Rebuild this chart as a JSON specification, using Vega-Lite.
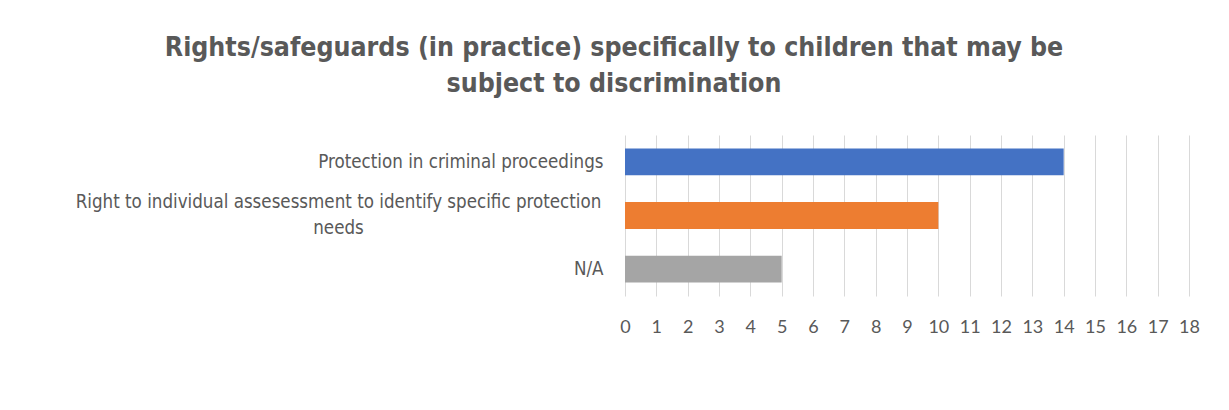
{
  "$schema": "https://vega.github.io/schema/vega-lite/v6.json",
  "width": 564,
  "height": 161,
  "autosize": "none",
  "padding": {"left": 625, "top": 135, "right": 40, "bottom": 114},
  "background": "white",
  "title": {
    "text": ["Rights/safeguards (in practice) specifically to children that may be", "subject to discrimination"],
    "anchor": "middle",
    "frame": "group",
    "dx": -293,
    "offset": 38,
    "font": "DejaVu Sans Condensed",
    "fontSize": 26.5,
    "fontWeight": "bold",
    "color": "#595959",
    "lineHeight": 36
  },
  "data": {
    "values": [
      {"category": "Protection in criminal proceedings", "count": 14},
      {"category": "Right to individual assesessment to identify specific protection needs", "count": 10},
      {"category": "N/A", "count": 5}
    ]
  },
  "mark": {"type": "bar"},
  "encoding": {
    "y": {
      "field": "category",
      "type": "nominal",
      "sort": null,
      "scale": {"paddingInner": 0.5, "paddingOuter": 0.25},
      "axis": {
        "title": null,
        "domain": false,
        "ticks": false,
        "grid": false,
        "labelFont": "DejaVu Sans Condensed",
        "labelFontSize": 18.6,
        "labelColor": "#595959",
        "labelLimit": 700,
        "labelLineHeight": 26,
        "labelExpr": "datum.label == 'Right to individual assesessment to identify specific protection needs' ? ['Right to individual assesessment to identify specific protection', 'needs'] : datum.label",
        "labelAlign": {"condition": {"test": "datum.label == 'Right to individual assesessment to identify specific protection needs'", "value": "center"}, "value": "right"},
        "labelPadding": {"condition": {"test": "datum.label == 'Right to individual assesessment to identify specific protection needs'", "value": 287}, "value": 22},
        "labelOffset": {"condition": {"test": "datum.label == 'Right to individual assesessment to identify specific protection needs'", "value": -14}, "value": 0}
      }
    },
    "x": {
      "field": "count",
      "type": "quantitative",
      "scale": {"domain": [0, 18], "nice": false},
      "axis": {
        "title": null,
        "values": [0,1,2,3,4,5,6,7,8,9,10,11,12,13,14,15,16,17,18],
        "domain": false,
        "ticks": false,
        "grid": true,
        "gridColor": "#D9D9D9",
        "gridWidth": 1,
        "labelFont": "Lato, Open Sans",
        "labelFontSize": 18,
        "labelColor": "#595959",
        "labelPadding": 22,
        "labelFlush": false,
        "labelOverlap": false
      }
    },
    "color": {
      "field": "category",
      "type": "nominal",
      "sort": null,
      "legend": null,
      "scale": {"range": ["#4472C4", "#ED7D31", "#A5A5A5"]}
    }
  },
  "config": {"view": {"stroke": null}}
}
